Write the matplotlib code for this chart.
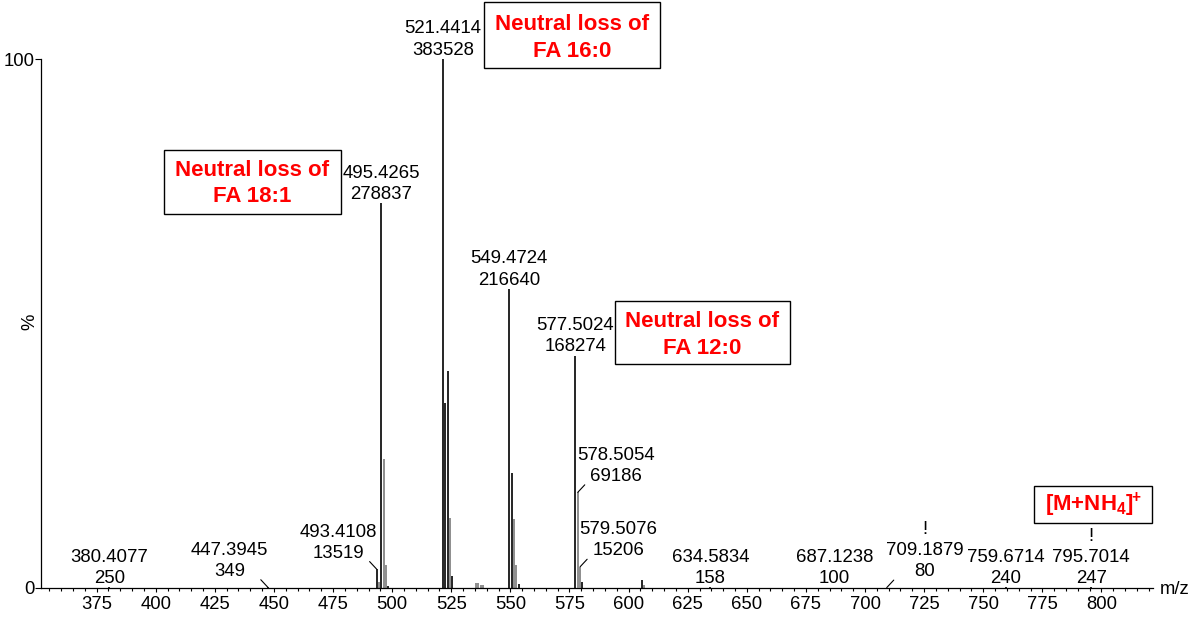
import matplotlib
matplotlib.use("Agg")
import matplotlib.pyplot as plt
from matplotlib.patches import Rectangle
from matplotlib.ticker import FixedLocator, MultipleLocator

plt.rcParams["font.family"] = ["Liberation Sans", "DejaVu Sans"]
plt.rcParams["mathtext.fontset"] = "custom"
plt.rcParams["mathtext.bf"] = "Liberation Sans:bold"
plt.rcParams["mathtext.rm"] = "Liberation Sans:bold"
plt.rcParams["mathtext.default"] = "bf"

# Annotated ions: m/z and absolute intensity (counts)
ion_mz = [380.4077, 447.3945, 493.4108, 495.4265, 521.4414, 549.4724, 577.5024,
          578.5054, 579.5076, 634.5834, 687.1238, 709.1879, 759.6714, 795.7014]
ion_counts = [250, 349, 13519, 278837, 383528, 216640, 168274,
              69186, 15206, 158, 100, 80, 240, 247]
ion_mark = ["", "", "", "", "", "", "", "", "", "", "", "!", "", "!"]

# Unannotated isotope and minor peaks: m/z and relative intensity (%)
minor_mz = [494.41, 496.43, 497.43, 498.40, 522.45, 523.45, 524.45, 525.45,
            535.5, 536.5, 537.5, 538.5, 550.48, 551.48, 552.48, 553.50,
            580.50, 605.55, 606.55]
minor_pct = [1.1, 24.3, 4.3, 0.4, 35.0, 40.9, 13.2, 2.3,
             0.9, 0.8, 0.6, 0.5, 21.7, 13.0, 4.2, 0.7,
             1.0, 1.5, 0.6]

# Boxed assignments
box_text = ["Neutral loss of\nFA 16:0", "Neutral loss of\nFA 18:1",
            "Neutral loss of\nFA 12:0", r"$\mathbf{[M{+}NH_4]^{\!\!+}}$"]

x_ticks = [375, 400, 425, 450, 475, 500, 525, 550, 575, 600, 625, 650, 675,
           700, 725, 750, 775, 800]
y_ticks = [0, 100]
x_label = "m/z"
y_label = "%"

# ---------------------------------------------------------------- layout
W, H = 1201, 619
PX = 72 / 100  # points per pixel at dpi 100

BLACK, GREY = "#000000", "#7a7a7a"
ion_colour = [BLACK, BLACK, BLACK, BLACK, BLACK, BLACK, BLACK,
              GREY, GREY, BLACK, BLACK, BLACK, BLACK, BLACK]
minor_colour = [GREY, GREY, GREY, BLACK, BLACK, BLACK, GREY, BLACK,
                GREY, GREY, GREY, GREY, BLACK, GREY, GREY, BLACK,
                BLACK, BLACK, GREY]
# -1 label pushed left with leader, +1 pushed right, 0 centred on the peak
label_side = [0, -1, -1, 0, 0, 0, 0, 1, 1, 0, 0, 1, 0, 0]

# box extents in pixels: x0, y0 (top), x1, y1 (bottom), text drop
box_px = [(484, 2, 660, 68, 3), (164, 150, 341, 214, 1.5),
          (615, 301, 790, 364, 2.5), (1034, 486, 1152, 523, 0)]

fig = plt.figure(figsize=(W / 100, H / 100), dpi=100)
ax_l, ax_r, ax_t, ax_b = 41.3, 1153, 59, 587.7
ax = fig.add_axes([ax_l / W, (H - ax_b) / H, (ax_r - ax_l) / W, (ax_b - ax_t) / H])

base = max(ion_counts)
ion_pct = [c / base * 100 for c in ion_counts]

ax.vlines(minor_mz, 0, minor_pct, colors=minor_colour, lw=1.2, zorder=2)
ax.vlines(ion_mz, 0, ion_pct, colors=ion_colour, lw=1.2, zorder=3)

ax.set_xlim(351.6, 821.8)
ax.set_ylim(0, 100)

for spine in ("top", "right"):
    ax.spines[spine].set_visible(False)
for spine in ("left", "bottom"):
    ax.spines[spine].set_linewidth(0.9)
ax.spines["left"].set_bounds(0, 100)

ax.xaxis.set_major_locator(FixedLocator(x_ticks))
ax.xaxis.set_minor_locator(MultipleLocator(5))
ax.yaxis.set_major_locator(FixedLocator(y_ticks))
ax.tick_params(axis="x", which="major", direction="out", length=3.2, width=0.8,
               labelsize=13.3, pad=3)
ax.tick_params(axis="x", which="minor", direction="out", length=1.8, width=0.8)
ax.tick_params(axis="y", which="major", direction="out", length=4.3, width=0.8,
               labelsize=13.3, pad=0.5)

# peak labels
lead_dx, lead_dy = 7 * PX, 7.5 * PX
text_dx, text_dy = 38 * PX, 7.4 * PX
for mz, cnt, pct, mark, side in zip(ion_mz, ion_counts, ion_pct, ion_mark, label_side):
    label = f"{mz:.4f}\n{cnt}"
    if mark:
        label = mark + "\n" + label
    if side:
        ax.annotate("", xy=(mz, pct), xytext=(side * lead_dx, lead_dy),
                    textcoords="offset points",
                    arrowprops=dict(arrowstyle="-", lw=0.8, color="black",
                                    shrinkA=0, shrinkB=0))
        off = (side * text_dx, text_dy)
    else:
        off = (0, 0.3)
    ax.annotate(label, xy=(mz, pct), xytext=off, textcoords="offset points",
                ha="center", va="bottom", fontsize=13.4, linespacing=1.32,
                annotation_clip=False, zorder=4)

# axis titles
fig.text(30 / W, 1 - 322 / H, y_label, rotation=90, ha="center", va="center",
         fontsize=13.3)
fig.text(1160 / W, 1 - 590 / H, x_label, ha="left", va="center", fontsize=13.3)

# boxed assignments
for txt, (x0, y0, x1, y1, drop) in zip(box_text, box_px):
    fig.patches.append(Rectangle((x0 / W, 1 - y1 / H), (x1 - x0) / W, (y1 - y0) / H,
                                 transform=fig.transFigure, facecolor="white",
                                 edgecolor="black", lw=1.0, zorder=5))
    fig.text((x0 + x1) / 2 / W, 1 - ((y0 + y1) / 2 + drop) / H, txt, ha="center",
             va="center", fontsize=16, fontweight="bold", color="#ff0000",
             linespacing=1.35, zorder=6)

fig.savefig("out.png", dpi=100)
